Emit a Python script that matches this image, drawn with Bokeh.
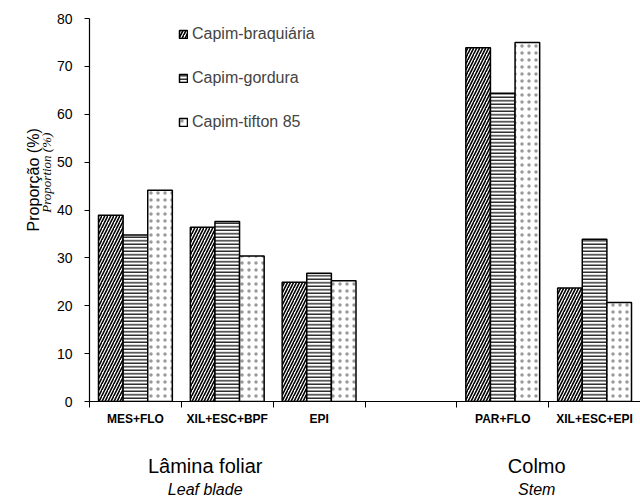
import numpy as np
from bokeh.plotting import figure
from bokeh.models import ColumnDataSource, Range1d, FixedTicker, Legend, LegendItem, LinearAxis
from bokeh.embed import file_html
from bokeh.resources import INLINE

# ---- data ----
categories = ["MES+FLO", "XIL+ESC+BPF", "EPI", "", "PAR+FLO", "XIL+ESC+EPI"]
braquiaria = [38.9, 36.4, 24.9, None, 73.9, 23.7]
gordura = [34.8, 37.6, 26.8, None, 64.4, 33.9]
tifton = [44.1, 30.4, 25.2, None, 75.0, 20.7]
series_names = ["Capim-braquiária", "Capim-gordura", "Capim-tifton 85"]
group_main = ["Lâmina foliar", "Colmo"]
group_sub = ["Leaf blade", "Stem"]
group_pos = [1.26, 4.87]
y_ticks = list(range(0, 81, 10))
y_label = "Proporção (%)"
y_label_en = "Proportion (%)"
y_label_pos = 46.3
y_label_en_pos = 47.8

FONT = "Liberation Sans"

p = figure(width=640, height=501, output_backend="svg", toolbar_location=None,
           x_range=Range1d(0, 6), y_range=Range1d(0, 80),
           min_border_left=89, min_border_right=0, min_border_top=18, min_border_bottom=100)
p.outline_line_color = None
p.xgrid.visible = False
p.ygrid.visible = False
p.background_fill_color = "white"

slots = np.arange(len(categories)) + 0.5
bw = 0.268
styles = [
    dict(offset=-bw, hatch_pattern="/", hatch_scale=6, hatch_weight=1.6, hatch_color="black"),
    dict(offset=0.0, hatch_pattern="-", hatch_scale=3.5, hatch_weight=1.2, hatch_color="black"),
    dict(offset=bw, hatch_pattern=".", hatch_scale=7, hatch_weight=0.6, hatch_color="#999999"),
]
renderers = []
for vals, st in zip([braquiaria, gordura, tifton], styles):
    xs = [s + st["offset"] for s, v in zip(slots, vals) if v is not None]
    tops = [v for v in vals if v is not None]
    src = ColumnDataSource(dict(x=xs, top=tops))
    r = p.vbar(x="x", top="top", width=bw, source=src, fill_color="white",
               line_color="black", line_width=1.5,
               hatch_pattern=st["hatch_pattern"], hatch_scale=st["hatch_scale"],
               hatch_weight=st["hatch_weight"], hatch_color=st["hatch_color"])
    renderers.append(r)

# x axis: labels at slot centers, ticks at slot boundaries
p.xaxis.ticker = FixedTicker(ticks=list(slots), minor_ticks=list(range(0, len(categories) + 1)))
p.xaxis.major_label_overrides = {float(s): c for s, c in zip(slots, categories)}
p.xaxis.major_tick_line_color = None
p.xaxis.major_tick_out = 6
p.xaxis.major_tick_in = 0
p.xaxis.minor_tick_line_color = "black"
p.xaxis.minor_tick_out = 6
p.xaxis.minor_tick_in = 0
p.xaxis.axis_line_width = 1.2
p.xaxis.major_label_text_font = FONT
p.xaxis.major_label_text_font_style = "bold"
p.xaxis.major_label_text_font_size = "12px"
p.xaxis.major_label_text_color = "black"
p.xaxis.major_label_standoff = 4

# y axis
p.yaxis.ticker = FixedTicker(ticks=y_ticks)
p.yaxis.minor_tick_line_color = None
p.yaxis.major_tick_out = 5
p.yaxis.major_tick_in = 0
p.yaxis.axis_line_width = 1.2
p.yaxis.major_label_text_font = FONT
p.yaxis.major_label_text_font_size = "14px"
p.yaxis.major_label_text_color = "black"
p.yaxis.major_label_standoff = 12


def text_axis(ticks, labels, font, size, style, standoff, orientation="horizontal"):
    ax = LinearAxis(ticker=FixedTicker(ticks=ticks, minor_ticks=[]),
                    major_label_overrides={float(t): l for t, l in zip(ticks, labels)},
                    axis_line_color=None, major_tick_line_color=None,
                    minor_tick_line_color=None, major_tick_out=0, major_tick_in=0,
                    major_label_text_font=font, major_label_text_font_size=size,
                    major_label_text_font_style=style, major_label_text_color="black",
                    major_label_standoff=standoff, major_label_orientation=orientation)
    return ax


# y labels (inner italic English, outer Portuguese)
p.add_layout(text_axis([y_label_en_pos], [y_label_en], "Liberation Serif", "13px", "italic", -1,
                       "vertical"), "left")
p.add_layout(text_axis([y_label_pos], [y_label], FONT, "16px", "normal", -6, "vertical"), "left")

# group labels below
p.add_layout(text_axis(group_pos, group_main, FONT, "20px", "normal", 26), "below")
p.add_layout(text_axis(group_pos, group_sub, FONT, "16px", "italic", 1), "below")

legend = Legend(items=[LegendItem(label=n, renderers=[r]) for n, r in zip(series_names, renderers)],
                location=(89, 269), glyph_width=10, glyph_height=10, label_height=20,
                spacing=24, padding=0, margin=0, border_line_color=None,
                background_fill_alpha=0, label_text_font=FONT, label_text_font_size="16px",
                label_standoff=4)
p.add_layout(legend)

open("out.html", "w").write(file_html(p, INLINE))
